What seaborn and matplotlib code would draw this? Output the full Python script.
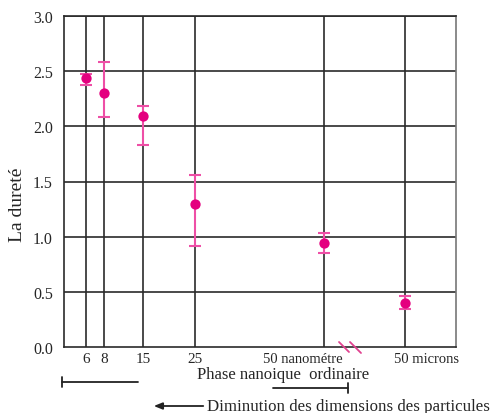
import matplotlib
matplotlib.use("Agg")
import matplotlib.pyplot as plt
import matplotlib.transforms as mtransforms
from matplotlib.lines import Line2D
import seaborn as sns
import pandas as pd

# ---- data ----
categories = ["6", "8", "15", "25", "50 nanométre", "50 microns"]
cat_pos = [22, 40, 79, 131, 260, 341]          # axis positions of the categories
durete = [2.44, 2.305, 2.09, 1.296, 0.94, 0.40]
err_low = [2.375, 2.085, 1.83, 0.916, 0.85, 0.34]
err_high = [2.47, 2.58, 2.18, 1.557, 1.03, 0.465]
y_ticks = [0.0, 0.5, 1.0, 1.5, 2.0, 2.5, 3.0]

df = pd.DataFrame({"pos": cat_pos, "durete": durete,
                   "lo": err_low, "hi": err_high, "cat": categories})

sns.set_style("white")
plt.rcParams["font.family"] = ["Liberation Serif", "DejaVu Serif"]

fig = plt.figure(figsize=(4.9, 4.14), dpi=100)
W, H = 490, 414
ax = fig.add_axes([64 / W, 1 - 348 / H, (456 - 64) / W, (348 - 17) / H])

# grid
for p in cat_pos:
    ax.axvline(p, color="#2a2a2a", lw=1.2, zorder=1)
for yv in y_ticks[1:]:
    ax.axhline(yv, color="#2a2a2a", lw=1.2, zorder=1)

pink = "#e4007f"
ax.errorbar(df["pos"], df["durete"],
            yerr=[df["durete"] - df["lo"], df["hi"] - df["durete"]],
            fmt="none", ecolor="#ee4fa6", elinewidth=1.5, capsize=4.5,
            capthick=1.5, zorder=3)
sns.scatterplot(data=df, x="pos", y="durete", ax=ax, color=pink, s=55,
                edgecolor=pink, linewidth=0, zorder=4, legend=False)

ax.set_xlim(0, 392)
ax.set_ylim(0, 3.0)
ax.set_yticks(y_ticks)
ax.set_yticklabels([f"{v:.1f}" for v in y_ticks], fontsize=11.5)
ax.set_xticks(cat_pos)
ax.set_xticklabels(categories, fontsize=11)
ax.tick_params(axis="both", length=0)
ax.tick_params(axis="x", pad=3.5)
ax.tick_params(axis="y", pad=8)
ax.set_xlabel("")
ax.set_ylabel("La dureté", fontsize=14)
ax.yaxis.set_label_coords((26 - 64) / 392, (348 - 205) / 331)

# shift the last two tick labels as in the reference
labels = ax.get_xticklabels()
for lab, dx in zip(labels[4:], [-21, 21]):
    lab.set_fontsize(10.5)
    lab.set_transform(lab.get_transform() +
                      mtransforms.ScaledTranslation(dx / 100, 0, fig.dpi_scale_trans))

for s in ["left", "bottom", "top"]:
    ax.spines[s].set_color("#2a2a2a")
    ax.spines[s].set_linewidth(1.2)
ax.spines["right"].set_color("#777777")
ax.spines["right"].set_linewidth(1.2)

# annotations in figure pixels
def fx(x):
    return x / W

def fy(y):
    return 1 - y / H

tf = fig.transFigure
# break marks
for (x0, y0, x1, y1) in [(339, 343, 349, 353), (350, 343, 361, 354)]:
    fig.add_artist(Line2D([fx(x0), fx(x1)], [fy(y0), fy(y1)], transform=tf,
                          color="#e0418f", lw=1.3))

fig.text(fx(283), fy(375), "Phase nanoique  ordinaire", ha="center",
         va="center", fontsize=12)
# left bracket
fig.add_artist(Line2D([fx(62), fx(138)], [fy(383), fy(383)], transform=tf,
                      color="#222222", lw=1.3))
fig.add_artist(Line2D([fx(62), fx(62)], [fy(378), fy(388)], transform=tf,
                      color="#222222", lw=1.3))
# right bracket
fig.add_artist(Line2D([fx(273), fx(348)], [fy(389), fy(389)], transform=tf,
                      color="#222222", lw=1.3))
fig.add_artist(Line2D([fx(348), fx(348)], [fy(384), fy(394)], transform=tf,
                      color="#222222", lw=1.3))
# arrow
ax.annotate("", xy=(fx(151), fy(407)), xytext=(fx(206), fy(407)),
            xycoords=tf, textcoords=tf,
            arrowprops=dict(arrowstyle="-|>,head_length=0.5,head_width=0.2",
                            color="#222222", lw=1.3))
fig.text(fx(207), fy(407), "Diminution des dimensions des particules",
         ha="left", va="center", fontsize=12.2)

fig.savefig("out.png", dpi=100)
